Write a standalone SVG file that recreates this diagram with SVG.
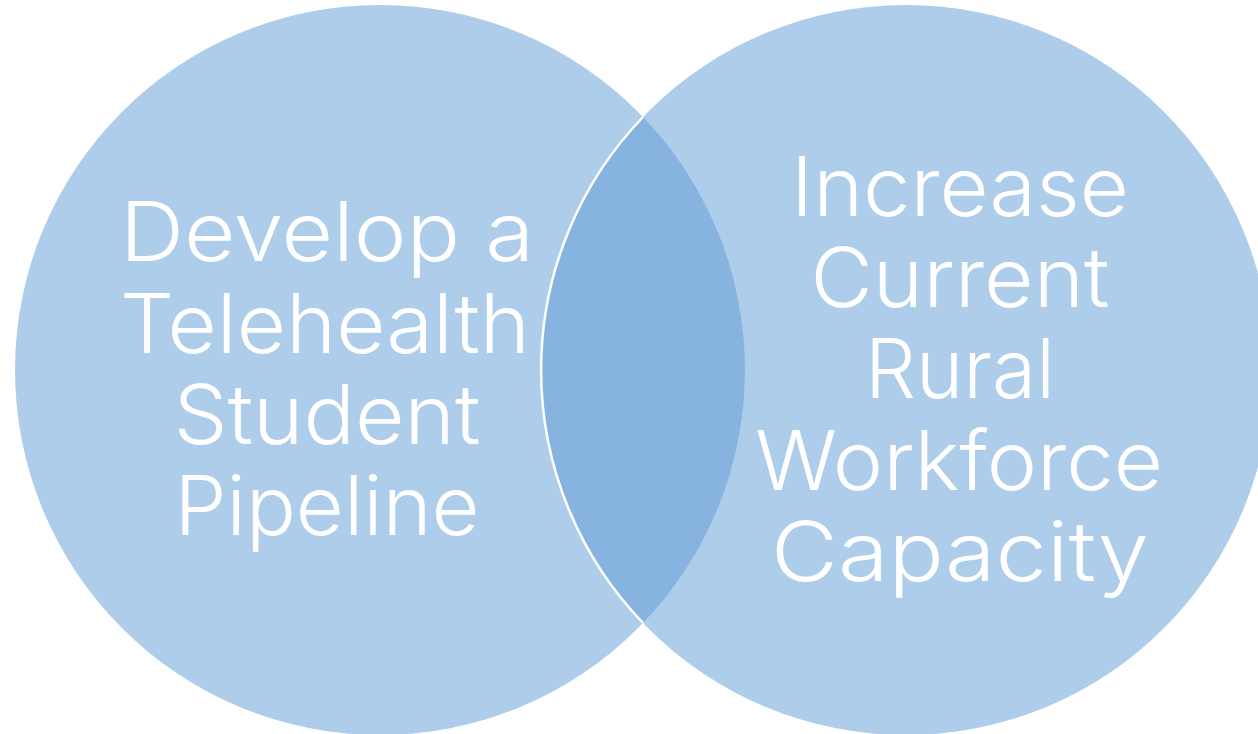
<svg xmlns="http://www.w3.org/2000/svg" width="1258" height="734" viewBox="0 0 1258 734">
<style>
.c{fill:#AECDEA}
.lens{fill:#86B3DF}
.edge{fill:none;stroke:#FFFFFF;stroke-width:2.5}
.t{font-family:"Inter","DejaVu Sans","Liberation Sans",sans-serif;font-weight:300;font-size:82px;fill:#FFFFFF;text-anchor:middle}
</style>
<rect width="1258" height="734" fill="#FFFFFF"/>
<g id="circle-left"><circle class="c" cx="380" cy="370" r="365"/></g>
<g id="circle-right"><circle class="c" cx="906" cy="370" r="365"/></g>
<g id="overlap">
<path class="lens" d="M643 117 A365 365 0 0 1 643 623 A365 365 0 0 1 643 117 Z"/>
<path class="edge" d="M643 117 A365 365 0 0 0 643 623"/>
</g>
<g id="label-left">
<text class="t" x="327" y="261" textLength="414" lengthAdjust="spacingAndGlyphs">Develop a</text>
<text class="t" x="325" y="353" textLength="410" lengthAdjust="spacingAndGlyphs">Telehealth</text>
<text class="t" x="327" y="444" textLength="307" lengthAdjust="spacingAndGlyphs">Student</text>
<text class="t" x="327" y="535" textLength="305" lengthAdjust="spacingAndGlyphs">Pipeline</text>
</g>
<g id="label-right">
<text class="t" x="960" y="216" textLength="338" lengthAdjust="spacingAndGlyphs">Increase</text>
<text class="t" x="960" y="307" textLength="299" lengthAdjust="spacingAndGlyphs">Current</text>
<text class="t" x="960" y="398" textLength="190" lengthAdjust="spacingAndGlyphs">Rural</text>
<text class="t" x="959" y="490" textLength="408" lengthAdjust="spacingAndGlyphs">Workforce</text>
<text class="t" x="960" y="581" textLength="378" lengthAdjust="spacingAndGlyphs">Capacity</text>
</g>
</svg>
